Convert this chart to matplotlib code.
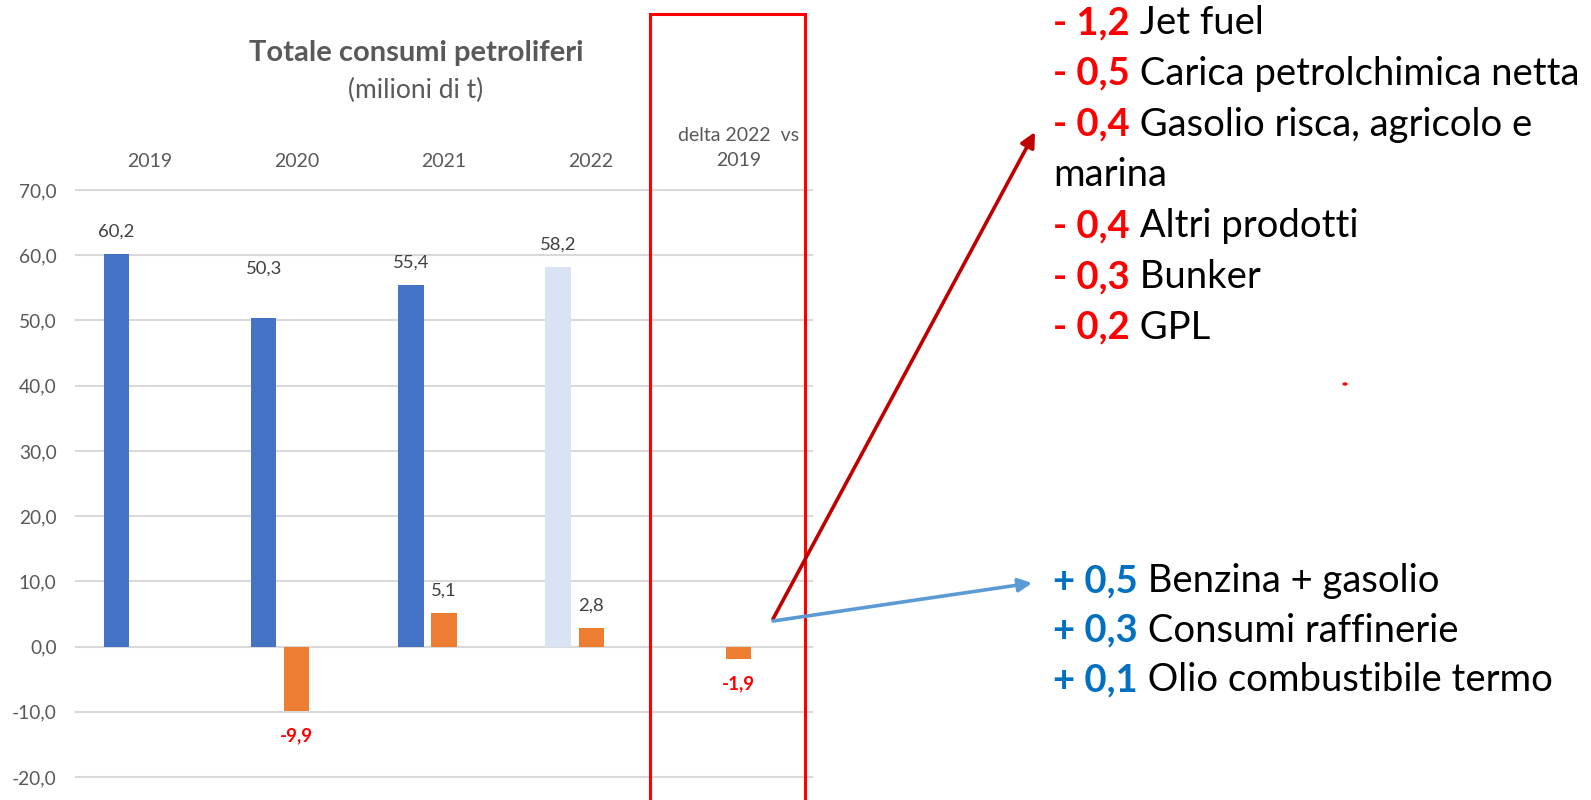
import matplotlib.pyplot as plt
from matplotlib.patches import Rectangle, FancyArrowPatch, Circle
import numpy as np

plt.rcParams['font.family'] = ['Lato', 'DejaVu Sans']

# Dati del grafico
categorie = ['2019', '2020', '2021', '2022', 'delta 2022  vs\n2019']
consumi = [60.2, 50.3, 55.4, 58.2]
variazioni = [None, -9.9, 5.1, 2.8, -1.9]
tick_y = [-20, -10, 0, 10, 20, 30, 40, 50, 60, 70]

neg_valori = ['1,2', '0,5', '0,4', '0,4', '0,3', '0,2']
neg_voci = ['Jet fuel', 'Carica petrolchimica netta', 'Gasolio risca, agricolo e\nmarina',
            'Altri prodotti', 'Bunker', 'GPL']
pos_valori = ['0,5', '0,3', '0,1']
pos_voci = ['Benzina + gasolio', 'Consumi raffinerie', 'Olio combustibile termo']

# colori
blu = '#4472C4'
blu_chiaro = '#DAE3F3'
arancio = '#ED7D31'
grigio = '#595959'
rosso = '#FF0000'

W, H = 1591, 800
fig = plt.figure(figsize=(W / 100, H / 100), dpi=100)

def fx(px):
    return px / W

def fy(py):
    return 1 - py / H

ax = fig.add_axes([fx(76), fy(777), fx(812) - fx(76), fy(190) - fy(777)])
x = np.arange(len(categorie))
larg = 0.172

colori_blu = [blu, blu, blu, blu_chiaro]
ax.bar(x[:4] - 0.225, consumi, width=larg, color=colori_blu, zorder=2)
x_ar = [x[i] for i in range(len(variazioni)) if variazioni[i] is not None]
v_ar = [v for v in variazioni if v is not None]
ax.bar(x_ar, v_ar, width=larg, color=arancio, zorder=2)

# etichette barre blu (quella del 2020 e' piu' in alto)
spost_blu = [16, 36, 16, 16]
for i, v in enumerate(consumi):
    ax.annotate(f'{v:.1f}'.replace('.', ','), (x[i] - 0.225, v), xytext=(0, spost_blu[i]),
                textcoords='offset points', ha='center', va='center', fontsize=13.3, color='#404040')

for xi, v in zip(x_ar, v_ar):
    testo = f'{v:.1f}'.replace('.', ',')
    if v >= 0:
        ax.annotate(testo, (xi, v), xytext=(0, 16), textcoords='offset points',
                    ha='center', va='center', fontsize=13.3, color='#404040')
    else:
        ax.annotate(testo, (xi, v), xytext=(0, -18), textcoords='offset points',
                    ha='center', va='center', fontsize=13.5, color=rosso, fontweight='bold')

ax.set_xlim(-0.5, 4.5)
ax.set_ylim(-20, 70)
ax.set_yticks(tick_y)
ax.set_yticklabels([f'{t:.1f}'.replace('.', ',') for t in tick_y])
ax.tick_params(axis='y', length=0, pad=14, labelsize=13.8, labelcolor=grigio)
ax.set_xticks([])
for s in ax.spines.values():
    s.set_visible(False)
ax.grid(axis='y', color='#D9D9D9', linewidth=1.5, zorder=0)
for gl in ax.get_ygridlines():
    gl.set_clip_on(False)

# etichette categorie in alto
for i, c in enumerate(categorie):
    if '\n' in c:
        ax.text(x[i], 76.4, c, ha='center', va='center', fontsize=14, color=grigio,
                linespacing=1.55)
    else:
        ax.text(x[i], 74.3, c, ha='center', va='center', fontsize=14, color=grigio)

# titolo
fig.text(fx(416), fy(53), 'Totale consumi petroliferi', ha='center', va='center',
         fontsize=21, fontweight='bold', color=grigio)
fig.text(fx(416), fy(90), '(milioni di t)', ha='center', va='center', fontsize=19, color=grigio)

# riquadro rosso sul delta
fig.add_artist(Rectangle((fx(650), fy(830)), fx(805) - fx(650), fy(14) - fy(830),
                         transform=fig.transFigure, fill=False, edgecolor=rosso, linewidth=2.2))

# frecce
fig.add_artist(FancyArrowPatch((fx(773), fy(619)), (fx(1035), fy(132)), transform=fig.transFigure,
                               arrowstyle='-|>', mutation_scale=22, color='#C00000', linewidth=2.6,
                               shrinkA=0, shrinkB=0))
fig.add_artist(FancyArrowPatch((fx(773), fy(621)), (fx(1032), fy(583)), transform=fig.transFigure,
                               arrowstyle='-|>', mutation_scale=20, color='#5B9BD5', linewidth=2.6,
                               shrinkA=0, shrinkB=0))
fig.add_artist(Circle((fx(1345), fy(384)), 0.0012, transform=fig.transFigure, color=rosso))

# elenco a destra
renderer = fig.canvas.get_renderer()

def riga(px, py, pezzi, size=27.5):
    xx = fx(px)
    for testo, col, peso in pezzi:
        t = fig.text(xx, fy(py), testo, color=col, fontweight=peso, fontsize=size,
                     ha='left', va='center')
        xx += t.get_window_extent(renderer).width / fig.bbox.width

x0 = 1053
y = 23
for val, voce in zip(neg_valori, neg_voci):
    righe = voce.split('\n')
    riga(x0, y, [('- ' + val, rosso, 'bold'), (' ' + righe[0], 'black', 'normal')])
    y += 50.8
    for r in righe[1:]:
        riga(x0, y, [(r, 'black', 'normal')])
        y += 50.8

y = 581
for val, voce in zip(pos_valori, pos_voci):
    riga(x0, y, [('+ ' + val, '#0070C0', 'bold'), (' ' + voce, 'black', 'normal')])
    y += 49.5

fig.savefig('out.png', dpi=100)
